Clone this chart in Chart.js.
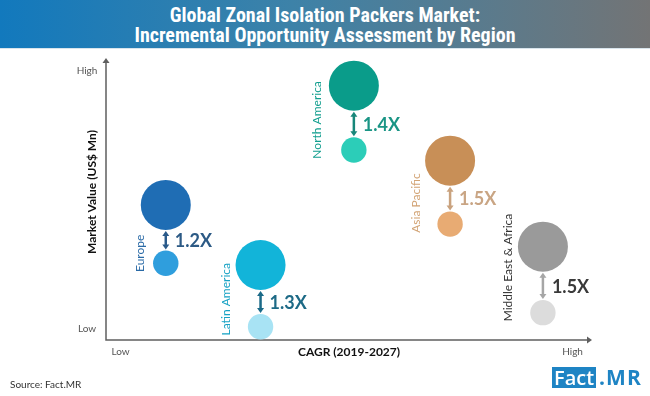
<!DOCTYPE html>
<html>
<head>
<meta charset="utf-8">
<script src="https://cdn.jsdelivr.net/npm/chart.js@4.4.1/dist/chart.umd.min.js"></script>
<style>
    html, body { margin: 0; padding: 0; background: #ffffff; }
    body { width: 650px; height: 396px; position: relative; overflow: hidden; font-family: Lato, "Open Sans", sans-serif; }
    #banner {
        position: absolute; left: 0; top: 0; width: 650px; height: 49px;
        background: linear-gradient(to right, #1279bd 0%, #3d82a8 45%, #737475 100%);
        border-bottom: 1px solid #d8e4ec;
        color: #ffffff; text-align: center;
        font-family: "Liberation Sans Narrow", "Roboto Condensed", sans-serif;
        font-weight: bold; font-size: 20px; line-height: 20px;
        padding-top: 5px; box-sizing: border-box;
    }
    #chartWrap { position: absolute; left: 0; top: 0; width: 650px; height: 396px; }
    #source { position: absolute; left: 10px; top: 378px; font-size: 10px; color: #333; }
    #logo { position: absolute; left: 552px; top: 367px; height: 21px; font-family: "Open Sans", Lato, sans-serif; font-weight: bold; font-size: 21px; line-height: 21px; }
    #logo .box { background: #1e84c4; color: #fff; padding: 0 2px; display: inline-block; font-weight: 600; font-size: 20px; }
    #logo .mr { color: #1e84c4; margin-left: 3px; letter-spacing: 1px; }
</style>
</head>
<body>
<div id="chartWrap"><canvas id="bubbleChart" width="650" height="396"></canvas></div>
<div id="banner">Global Zonal Isolation Packers Market:<br>Incremental Opportunity Assessment by Region</div>
<div id="source">Source: Fact.MR</div>
<div id="logo"><span class="box">Fact</span><span class="mr">.MR</span></div>

<script>
// Chart data (relative positions, 0-100 scale)
const regions = ['Europe', 'Latin America', 'North America', 'Asia Pacific', 'Middle East & Africa'];
const cagrPosition = [12.3, 31.8, 51.0, 70.8, 89.9];
const value2019 = [27.2, 4.7, 67.4, 41.1, 9.7];
const value2027 = [47.9, 26.6, 90.2, 63.6, 33.1];
const multiples = ['1.2X', '1.3X', '1.4X', '1.5X', '1.5X'];

// Axis tick labels
const xTickValues = [3, 96];
const xTickLabels = ['Low', 'High'];
const yTickValues = [4, 95.5];
const yTickLabels = ['Low', 'High'];
const xTitle = 'CAGR (2019-2027)';
const yTitle = 'Market Value (US$ Mn)';

// Styles
const bigColors = ['#1f6db4', '#12b4d9', '#0a9c8a', '#c88f57', '#9a9a9a'];
const smallColors = ['#2f9edd', '#a8e3f4', '#2ccdb8', '#e8ab73', '#dcdcdc'];
const nameColors = ['#2a6aa6', '#17a2c4', '#119e8e', '#d2a374', '#333333'];
const ratioColors = ['#2c5a85', '#1d6a86', '#1a9585', '#c9a584', '#3a3a3a'];
const arrowColors = ['#2a5a8a', '#1b6a88', '#17877a', '#c9a27e', '#a6a6a6'];
const bigRadius = 25;
const smallRadius = 12.7;
const nameOffset = [-26, -34, -37, -34, -35];

const datasets = regions.map((name, i) => ({
    label: name,
    data: [
        { x: cagrPosition[i], y: value2027[i], r: bigRadius },
        { x: cagrPosition[i], y: value2019[i], r: smallRadius }
    ],
    backgroundColor: [bigColors[i], smallColors[i]],
    borderWidth: 0,
    hoverBorderWidth: 0,
    clip: false
}));

function drawArrowHead(ctx, x, y, dir) {
    ctx.beginPath();
    ctx.moveTo(x, y);
    ctx.lineTo(x - 3.5, y + dir * 5);
    ctx.lineTo(x + 3.5, y + dir * 5);
    ctx.closePath();
    ctx.fill();
}

// Axes, labels and growth arrows
const annotationPlugin = {
    id: 'annotations',
    beforeDatasetsDraw(chart) {
        const ctx = chart.ctx;
        const area = chart.chartArea;
        ctx.save();
        ctx.strokeStyle = '#5f5f5f';
        ctx.fillStyle = '#5f5f5f';
        ctx.lineWidth = 1.5;
        ctx.beginPath();
        ctx.moveTo(area.left, area.top + 3);
        ctx.lineTo(area.left, area.bottom);
        ctx.lineTo(area.right - 3, area.bottom);
        ctx.stroke();
        drawArrowHead(ctx, area.left, area.top, 1);
        ctx.beginPath();
        ctx.moveTo(area.right, area.bottom);
        ctx.lineTo(area.right - 5, area.bottom - 3.5);
        ctx.lineTo(area.right - 5, area.bottom + 3.5);
        ctx.closePath();
        ctx.fill();

        // growth arrows between bubbles
        regions.forEach((name, i) => {
            const meta = chart.getDatasetMeta(i);
            const big = meta.data[0];
            const small = meta.data[1];
            const top = big.y + bigRadius + 1;
            const bottom = small.y - smallRadius - 1;
            ctx.strokeStyle = arrowColors[i];
            ctx.fillStyle = arrowColors[i];
            ctx.lineWidth = 2.5;
            ctx.beginPath();
            ctx.moveTo(big.x, top + 4);
            ctx.lineTo(big.x, bottom - 4);
            ctx.stroke();
            drawArrowHead(ctx, big.x, top, 1);
            drawArrowHead(ctx, big.x, bottom, -1);
        });
        ctx.restore();
    },
    afterDatasetsDraw(chart) {
        const ctx = chart.ctx;
        const xScale = chart.scales.x;
        const yScale = chart.scales.y;
        const area = chart.chartArea;
        ctx.save();

        // tick labels
        ctx.font = '10px Lato, "Open Sans", sans-serif';
        ctx.fillStyle = '#555555';
        ctx.textAlign = 'center';
        ctx.textBaseline = 'middle';
        xTickValues.forEach((v, i) => {
            ctx.fillText(xTickLabels[i], xScale.getPixelForValue(v), area.bottom + 12);
        });
        yTickValues.forEach((v, i) => {
            ctx.fillText(yTickLabels[i], area.left - 19, yScale.getPixelForValue(v));
        });

        // axis titles
        ctx.font = 'bold 12px Lato, "Open Sans", sans-serif';
        ctx.fillStyle = '#111111';
        ctx.fillText(xTitle, 349, area.bottom + 12);
        ctx.save();
        ctx.translate(area.left - 14, (area.top + area.bottom) / 2 - 7);
        ctx.rotate(-Math.PI / 2);
        ctx.fillText(yTitle, 0, 0);
        ctx.restore();

        // region names and growth multiples
        regions.forEach((name, i) => {
            const meta = chart.getDatasetMeta(i);
            const big = meta.data[0];
            const small = meta.data[1];
            const midY = ((big.y + bigRadius) + (small.y - smallRadius)) / 2;

            ctx.font = 'bold 18px Lato, "Open Sans", sans-serif';
            ctx.fillStyle = ratioColors[i];
            ctx.textAlign = 'left';
            ctx.textBaseline = 'middle';
            ctx.fillText(multiples[i], big.x + 9, midY + 1);

            ctx.save();
            ctx.translate(big.x + nameOffset[i], small.y + smallRadius - 4);
            ctx.rotate(-Math.PI / 2);
            ctx.font = '12px Lato, "Open Sans", sans-serif';
            ctx.fillStyle = nameColors[i];
            ctx.textAlign = 'left';
            ctx.textBaseline = 'middle';
            ctx.fillText(name, 0, 0);
            ctx.restore();
        });
        ctx.restore();
    }
};

new Chart(document.getElementById('bubbleChart').getContext('2d'), {
    type: 'bubble',
    data: { datasets: datasets },
    options: {
        responsive: false,
        animation: false,
        layout: { padding: { left: 106, right: 58, top: 58, bottom: 56 } },
        plugins: {
            legend: { display: false },
            tooltip: { enabled: false }
        },
        scales: {
            x: { type: 'linear', min: 0, max: 100, display: false },
            y: { type: 'linear', min: 0, max: 100, display: false }
        }
    },
    plugins: [annotationPlugin]
});
</script>
</body>
</html>
